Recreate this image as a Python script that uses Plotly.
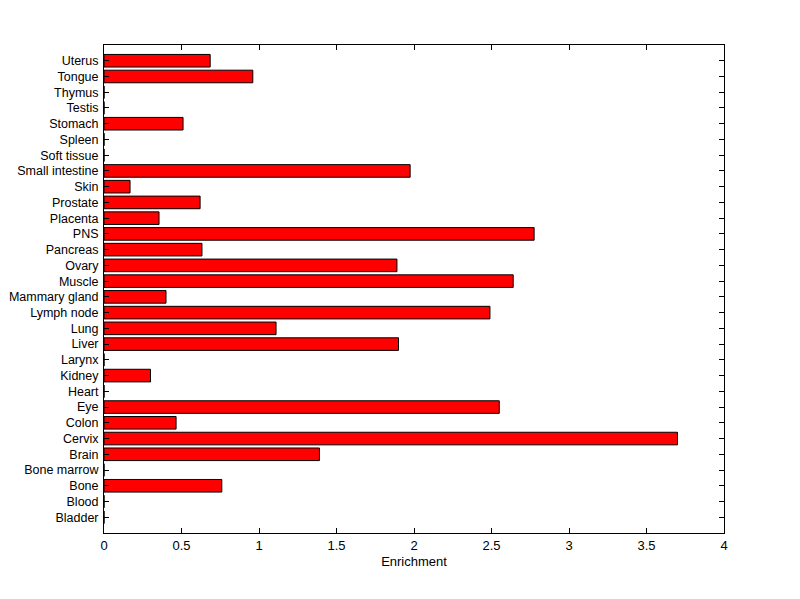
import plotly.graph_objects as go

tissues = ["Bladder", "Blood", "Bone", "Bone marrow", "Brain", "Cervix", "Colon", "Eye",
           "Heart", "Kidney", "Larynx", "Liver", "Lung", "Lymph node", "Mammary gland",
           "Muscle", "Ovary", "Pancreas", "PNS", "Placenta", "Prostate", "Skin",
           "Small intestine", "Soft tissue", "Spleen", "Stomach", "Testis", "Thymus",
           "Tongue", "Uterus"]
enrichment = [0, 0, 0.76, 0, 1.39, 3.70, 0.465, 2.55,
              0, 0.30, 0, 1.90, 1.11, 2.49, 0.40,
              2.64, 1.89, 0.632, 2.775, 0.355, 0.62, 0.168,
              1.975, 0, 0, 0.51, 0, 0,
              0.96, 0.685]
x_ticks = [0, 0.5, 1, 1.5, 2, 2.5, 3, 3.5, 4]

pos = list(range(1, len(tissues) + 1))

fig = go.Figure(go.Bar(
    x=enrichment, y=pos, orientation="h", width=0.8,
    marker=dict(color="#ff0000", line=dict(color="black", width=1)),
))

fig.update_layout(
    width=800, height=599,
    margin=dict(l=96, r=84, t=37, b=74),
    paper_bgcolor="white", plot_bgcolor="white",
    font=dict(family="Liberation Sans, Arial", size=13, color="black"),
    showlegend=False,
)
fig.update_xaxes(
    range=[0, 4], tickvals=x_ticks, ticktext=[f"{v:g}" for v in x_ticks],
    ticks="inside", ticklen=5, tickcolor="black", mirror="ticks",
    showline=True, linecolor="black", linewidth=1, showgrid=False, zeroline=False,
    automargin=False,
    title=dict(text="Enrichment", font=dict(size=13), standoff=5),
)
fig.update_yaxes(
    range=[0, len(tissues) + 1], tickvals=pos, ticktext=tissues,
    ticks="inside", ticklen=5, tickcolor="black", mirror="ticks",
    showline=True, linecolor="black", linewidth=1, showgrid=False, zeroline=False,
    automargin=False, ticklabelstandoff=2, tickfont=dict(size=12.5),
)

fig.write_html("out.html")
